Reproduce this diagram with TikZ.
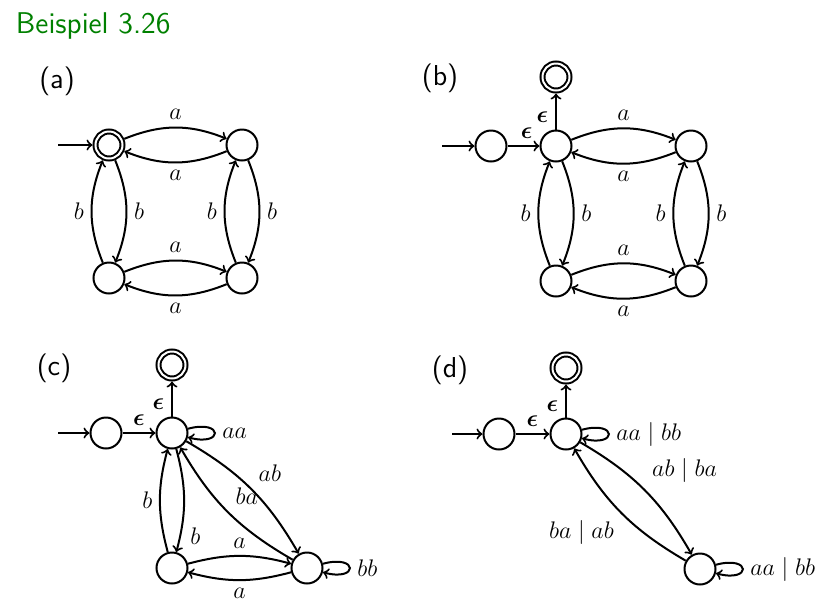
\documentclass[tikz,border=0pt]{standalone}
\usepackage{amsmath}
\usetikzlibrary{arrows}
\definecolor{beispielgreen}{rgb}{0,0.5,0}
\begin{document}
\begin{tikzpicture}[x=0.5pt, y=-0.5pt, line width=1pt, >=to, auto,
  font=\fontsize{11.5}{13}\selectfont]
\tikzstyle{state}=[draw,shape=circle,minimum size=15.5pt,inner sep=0pt]
\tikzstyle{accepting}=[state,double,double distance=1pt,minimum size=13.5pt,outer sep=1.5pt]
\tikzstyle{tag}=[font=\sffamily\Large]
\tikzstyle{every loop}=[min distance=6.5mm]
\useasboundingbox (0,0) rectangle (825,607);
\node[anchor=base west, inner sep=0pt, text=beispielgreen, font=\sffamily\fontsize{15}{18}\selectfont] (title) at (15,33) {Beispiel 3.26};
% (a)
\node[tag] (ta) at (57,81) {(a)};
\coordinate (ain) at (58,145);
\node[accepting] (a0) at (109,145) {};
\node[state] (a1) at (242,145) {};
\node[state] (a2) at (109,278) {};
\node[state] (a3) at (242,278) {};
\draw[->] (ain) -- (a0);
\path[->] (a0) edge[bend left=22] node {$a$} (a1)
(a1) edge[bend left=22] node {$a$} (a0)
(a0) edge[bend left=22] node {$b$} (a2)
(a2) edge[bend left=22] node {$b$} (a0)
(a1) edge[bend left=22] node {$b$} (a3)
(a3) edge[bend left=22] node {$b$} (a1)
(a2) edge[bend left=22] node {$a$} (a3)
(a3) edge[bend left=22] node {$a$} (a2);
% (b)
\node[tag] (tb) at (440,78) {(b)};
\coordinate (bin) at (442,146);
\node[state] (b0) at (491,146) {};
\node[state] (b1) at (556,146) {};
\node[accepting] (b2) at (556,77) {};
\node[state] (b3) at (691,146) {};
\node[state] (b4) at (556,281) {};
\node[state] (b5) at (691,281) {};
\draw[->] (bin) -- (b0);
\path[->] (b0) edge node[pos=.6, above] {$\boldsymbol{\epsilon}$} (b1)
(b1) edge node[pos=.35, left] {$\boldsymbol{\epsilon}$} (b2)
(b1) edge[bend left=22] node {$a$} (b3)
(b3) edge[bend left=22] node {$a$} (b1)
(b1) edge[bend left=22] node {$b$} (b4)
(b4) edge[bend left=22] node {$b$} (b1)
(b3) edge[bend left=22] node {$b$} (b5)
(b5) edge[bend left=22] node {$b$} (b3)
(b4) edge[bend left=22] node {$a$} (b5)
(b5) edge[bend left=22] node {$a$} (b4);
% (c)
\node[tag] (tc) at (54,368) {(c)};
\coordinate (cin) at (58,433);
\node[state] (c0) at (106,433) {};
\node[state] (c1) at (172,433) {};
\node[accepting] (c2) at (172,365) {};
\node[state] (c3) at (172,568) {};
\node[state] (c4) at (307,568) {};
\draw[->] (cin) -- (c0);
\path[->] (c0) edge node[above] {$\boldsymbol{\epsilon}$} (c1)
(c1) edge node[pos=.35, left] {$\boldsymbol{\epsilon}$} (c2)
(c1) edge[loop right] node {$aa$} ()
(c4) edge[loop right] node {$bb$} ()
(c1) edge[bend left=15] node[pos=.7] {$b$} (c3)
(c3) edge[bend left=15] node {$b$} (c1)
(c3) edge[bend left=15] node {$a$} (c4)
(c4) edge[bend left=15] node {$a$} (c3)
(c1) edge[bend left=15] node {$ab$} (c4)
(c4) edge[bend left=15] node[swap] {$ba$} (c1);
% (d)
\node[tag] (td) at (450,370) {(d)};
\coordinate (din) at (452,434);
\node[state] (d0) at (499,434) {};
\node[state] (d1) at (566,434) {};
\node[accepting] (d2) at (566,368) {};
\node[state] (d3) at (700,569) {};
\draw[->] (din) -- (d0);
\path[->] (d0) edge node[above] {$\boldsymbol{\epsilon}$} (d1)
(d1) edge node[pos=.35, left] {$\boldsymbol{\epsilon}$} (d2)
(d1) edge[loop right] node {$aa \mid bb$} ()
(d3) edge[loop right] node {$aa \mid bb$} ()
(d1) edge[bend left=15] node {$ab \mid ba$} (d3)
(d3) edge[bend left=15] node {$ba \mid ab$} (d1);
\end{tikzpicture}
\end{document}
